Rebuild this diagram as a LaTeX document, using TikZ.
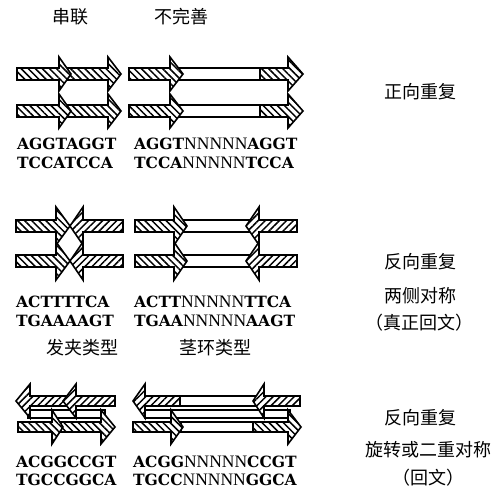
\documentclass[tikz,border=0pt]{standalone}
\usepackage{fontspec}
\newfontfamily\cjk{Noto Sans CJK SC}
\newfontfamily\seqfont{DejaVu Serif}
\newfontfamily\gapfont{Liberation Serif}
\usetikzlibrary{patterns.meta}
\newcommand{\bseq}[1]{{\seqfont\bfseries\fontsize{15.5}{16}\selectfont #1}}
\newcommand{\nseq}[1]{{\gapfont\fontsize{17.5}{16}\selectfont #1}}
\newcommand{\shaft}{6}
\newcommand{\head}{17}
% one hatched strand arrow: style, tail x, head-back x, tip x, centre y
\newcommand{\dnaarrow}[5]{%
  \draw[#1] (#2,#5-\shaft) -- (#3,#5-\shaft) -- (#3,#5-\head) -- (#4,#5)
    -- (#3,#5+\head) -- (#3,#5+\shaft) -- (#2,#5+\shaft) -- cycle;}
\tikzset{
  strand/.style={draw=black, line width=1.6pt, line join=miter},
  hatchfw/.style={strand, preaction={fill=white},
    pattern={Lines[angle=-45,distance=5pt,line width=1.5pt]}},
  hatchbw/.style={strand, preaction={fill=white},
    pattern={Lines[angle=45,distance=5pt,line width=1.5pt]}},
  spacer/.style={strand, fill=white},
  cjklabel/.style={font=\cjk\fontsize{18}{20}\selectfont, inner sep=0pt},
  seq/.style={anchor=west, inner sep=0pt}
}
\begin{document}
\begin{tikzpicture}[x=1pt, y=-1pt]
  \useasboundingbox[fill=white] (0,0) rectangle (491,500);

  % titles
  \node[cjklabel] (tandem) at (70,17) {串联};
  \node[cjklabel] (imperf) at (181,17) {不完善};
  \node[cjklabel] (hairpin) at (82,348) {发夹类型};
  \node[cjklabel] (stemloop) at (215,348) {茎环类型};

  % left column: perfect repeats
  \begin{scope}[xshift=8pt]
    \foreach \y in {74,111} {
      \dnaarrow{hatchfw}{58}{100}{113}{\y}
      \dnaarrow{hatchfw}{9}{51}{63}{\y}
    }
    \begin{scope}
      \renewcommand{\head}{19}
      \foreach \y in {226,261} {
        \dnaarrow{hatchfw}{8}{48}{62}{\y}
        \dnaarrow{hatchbw}{115}{75}{62}{\y}
      }
    \end{scope}
    \begin{scope}
      \renewcommand{\shaft}{5}
      \draw[spacer] (20,410) rectangle (97,418);
      \dnaarrow{hatchfw}{53}{93}{107}{427}
      \dnaarrow{hatchfw}{10}{44}{55}{427}
      \dnaarrow{hatchbw}{60}{22}{8}{401}
      \dnaarrow{hatchbw}{107}{68}{55}{401}
    \end{scope}
    \node[seq] (s1a) at (9,144) {\bseq{AGGTAGGT}};
    \node[seq] (s1b) at (9,163) {\bseq{TCCATCCA}};
    \node[seq] (s2a) at (8,302) {\bseq{ACTTTTCA}};
    \node[seq] (s2b) at (8,321) {\bseq{TGAAAAGT}};
    \node[seq] (s3a) at (8,462) {\bseq{ACGGCCGT}};
    \node[seq] (s3b) at (8,480) {\bseq{TGCCGGCA}};
  \end{scope}

  % middle column: repeats with a spacer
  \begin{scope}[xshift=-12pt]
    \foreach \y in {74,111} {
      \draw[spacer] (190,\y-\shaft) rectangle (274,\y+\shaft);
      \dnaarrow{hatchfw}{272}{300}{315}{\y}
      \dnaarrow{hatchfw}{141}{182}{195}{\y}
    }
    \begin{scope}
      \renewcommand{\head}{19}
      \foreach \y in {226,261} {
        \draw[spacer] (195,\y-\shaft) rectangle (262,\y+\shaft);
        \dnaarrow{hatchfw}{147}{186}{199}{\y}
        \dnaarrow{hatchbw}{309}{271}{258}{\y}
      }
    \end{scope}
    \begin{scope}
      \renewcommand{\shaft}{5}
      \draw[spacer] (157,410) rectangle (302,418);
      \draw[spacer] (190,396) rectangle (268,406);
      \draw[spacer] (193,422) rectangle (266,432);
      \dnaarrow{hatchfw}{145}{183}{195}{427}
      \dnaarrow{hatchfw}{265}{300}{313}{427}
      \dnaarrow{hatchbw}{192}{157}{145}{401}
      \dnaarrow{hatchbw}{312}{276}{265}{401}
    \end{scope}
    \node[seq] (s1c) at (146,144) {\bseq{AGGT}\nseq{NNNNN}\bseq{AGGT}};
    \node[seq] (s1d) at (146,163) {\bseq{TCCA}\nseq{NNNNN}\bseq{TCCA}};
    \node[seq] (s2c) at (146,302) {\bseq{ACTT}\nseq{NNNNN}\bseq{TTCA}};
    \node[seq] (s2d) at (146,321) {\bseq{TGAA}\nseq{NNNNN}\bseq{AAGT}};
    \node[seq] (s3c) at (145,462) {\bseq{ACGG}\nseq{NNNNN}\bseq{CCGT}};
    \node[seq] (s3d) at (145,480) {\bseq{TGCC}\nseq{NNNNN}\bseq{GGCA}};
  \end{scope}

  % right column: names of the repeats
  \node[cjklabel] (direct) at (420,92) {正向重复};
  \node[cjklabel] (inv1) at (420,262) {反向重复};
  \node[cjklabel] (sym) at (420,296) {两侧对称};
  \node[cjklabel] (truepal) at (419,323) {（真正回文）};
  \node[cjklabel] (inv2) at (420,418) {反向重复};
  \node[cjklabel] (rot) at (428,450) {旋转或二重对称};
  \node[cjklabel] (pal) at (428,478) {（回文）};
\end{tikzpicture}
\end{document}
